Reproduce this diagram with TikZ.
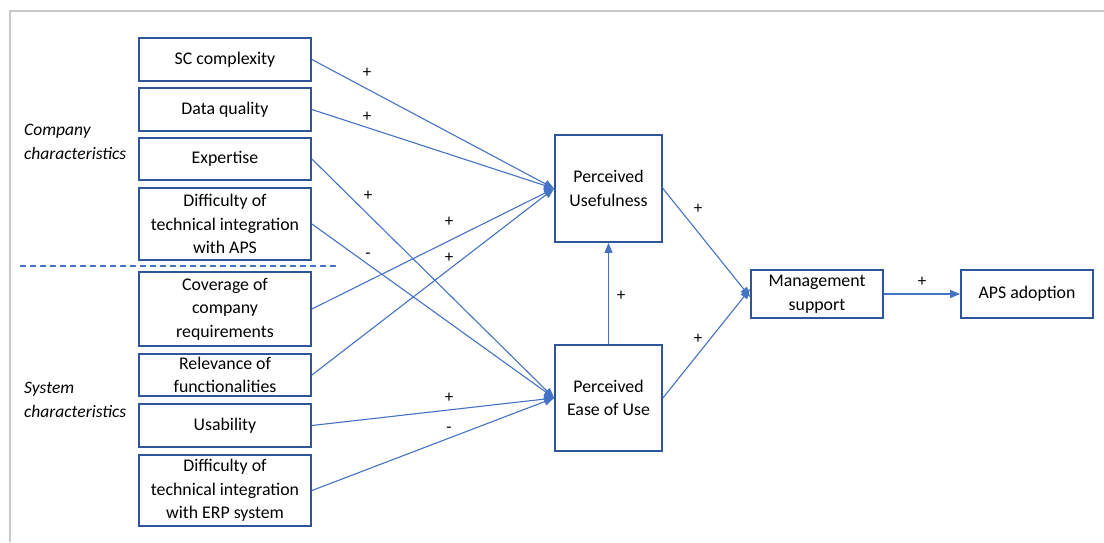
\documentclass[tikz,border=0pt]{standalone}
\usepackage{fontspec}
\setmainfont{Carlito}
\usetikzlibrary{arrows.meta}
\definecolor{boxblue}{HTML}{2F5597}
\definecolor{linkblue}{HTML}{4472C4}
\definecolor{framegray}{HTML}{C8C8C8}
\begin{document}
\begin{tikzpicture}[x=1pt,y=-1pt,
  box/.style={draw=boxblue,line width=1.8pt,fill=white,align=center,
    minimum width=172pt,inner sep=1pt,
    font=\fontsize{17.8}{23.5}\selectfont},
  link/.style={draw=linkblue,line width=1.1pt,
    -{Triangle[length=10pt,width=8pt]}},
  sign/.style={font=\fontsize{17}{18}\selectfont,inner sep=0pt},
  group/.style={font=\fontsize{17.5}{24}\selectfont\itshape,align=left,anchor=west,inner sep=0pt}]
\useasboundingbox (0,0) rectangle (1104,542);
% outer frame
\draw[framegray,line width=2pt] (10,542) -- (10,11) -- (1104,11);

% factor boxes
\node[box,minimum height=43pt] (sc)  at (225,59.5)  {SC complexity};
\node[box,minimum height=43pt] (dq)  at (225,109.5) {Data quality};
\node[box,minimum height=42pt] (ex)  at (225,159)   {Expertise};
\node[box,minimum height=72pt] (da)  at (225,224)   {Difficulty of\\technical integration\\with APS};
\node[box,minimum height=74pt] (cov) at (225,309)   {Coverage of\\company\\requirements};
\node[box,minimum height=42pt] (rel) at (225,375)   {Relevance of\\functionalities};
\node[box,minimum height=43pt] (usa) at (225,425.5) {Usability};
\node[box,minimum height=71pt] (de)  at (225,490.5) {Difficulty of\\technical integration\\with ERP system};

% group labels and separator
\node[group] (cc) at (24,142) {Company\\characteristics};
\node[group] (scg) at (24,400) {System\\characteristics};
\coordinate (dl) at (20,266);
\coordinate (dr) at (337,266);
\draw[linkblue,line width=1.5pt,dash pattern=on 6pt off 4pt] (dl) -- (dr);

% constructs
\node[box,minimum width=107pt,minimum height=107pt] (pu) at (608.5,188.5) {Perceived\\Usefulness};
\node[box,minimum width=107pt,minimum height=106pt] (pe) at (608.5,398) {Perceived\\Ease of Use};
\node[box,minimum width=132pt,minimum height=48pt] (ms) at (817,294) {Management\\support};
\node[box,minimum width=132pt,minimum height=48pt] (aps) at (1027,294) {APS adoption};

% paths
\draw[link] (sc.east) -- (pu.west);
\draw[link] (dq.east) -- (pu.west);
\draw[link] (ex.east) -- (pe.west);
\draw[link] (da.east) -- (pe.west);
\draw[link] (cov.east) -- (pu.west);
\draw[link] (rel.east) -- (pu.west);
\draw[link] (usa.east) -- (pe.west);
\draw[link] (de.east) -- (pe.west);
\draw[link] (pe.north) -- (pu.south);
\draw[link] (pu.east) -- ([yshift=-3pt]ms.west);
\draw[link] (pe.east) -- ([yshift=5pt]ms.west);
\draw[link] (ms.east) -- (aps.west);

% signs
\node[sign] (s1) at (367,73)  {+};
\node[sign] (s2) at (367,117) {+};
\node[sign] (s3) at (368,196) {+};
\node[sign] (s4) at (368,256) {-};
\node[sign] (s5) at (449,222) {+};
\node[sign] (s6) at (449,258) {+};
\node[sign] (s7) at (449,398) {+};
\node[sign] (s8) at (449,430) {-};
\node[sign] (s9) at (621,296) {+};
\node[sign] (s10) at (698,209) {+};
\node[sign] (s11) at (698,339) {+};
\node[sign] (s12) at (922,282) {+};
\end{tikzpicture}
\end{document}
